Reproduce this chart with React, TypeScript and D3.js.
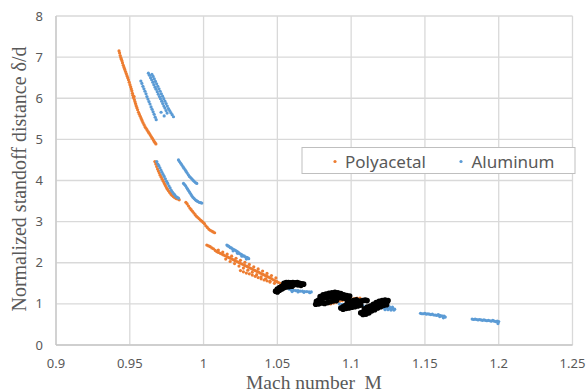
import React from "react";
import * as d3 from "d3";

const xTicks = [0.9, 0.95, 1, 1.05, 1.1, 1.15, 1.2, 1.25];
const xTickLabels = ["0.9", "0.95", "1", "1.05", "1.1", "1.15", "1.2", "1.25"];
const yTicks = [0, 1, 2, 3, 4, 5, 6, 7, 8];
const seriesNames = ["Polyacetal", "Aluminum"];

// Polyacetal: [Mach number, normalized standoff distance]
const polyacetal: [number, number][] = [
  [0.9427,7.15],[0.9431,7.10],[0.9435,7.04],[0.9439,6.99],[0.9443,6.95],[0.9447,6.91],[0.9451,6.86],[0.9456,6.80],
  [0.9461,6.75],[0.9466,6.70],[0.9471,6.65],[0.9476,6.60],[0.9481,6.55],[0.9486,6.50],[0.9491,6.45],[0.9496,6.39],
  [0.9501,6.33],[0.9506,6.28],[0.9510,6.23],[0.9514,6.18],[0.9518,6.12],[0.9521,6.07],[0.9525,6.02],[0.9529,6.04],
  [0.9531,5.97],[0.9535,5.92],[0.9539,5.87],[0.9543,5.82],[0.9548,5.77],[0.9553,5.72],[0.9559,5.66],[0.9565,5.61],
  [0.9571,5.56],[0.9577,5.51],[0.9583,5.46],[0.9589,5.41],[0.9596,5.36],[0.9603,5.31],[0.9610,5.27],[0.9617,5.23],
  [0.9624,5.19],[0.9631,5.15],[0.9638,5.11],[0.9645,5.07],[0.9652,5.03],[0.9659,4.99],[0.9665,4.95],[0.9671,4.92],
  [0.9677,4.89],
  [0.9670,4.46],[0.9676,4.40],[0.9682,4.34],[0.9688,4.28],[0.9694,4.23],[0.9700,4.18],[0.9706,4.13],[0.9713,4.08],
  [0.9720,4.03],[0.9727,3.98],[0.9734,3.93],[0.9741,3.88],[0.9748,3.83],[0.9755,3.79],[0.9762,3.75],[0.9770,3.71],
  [0.9778,3.67],[0.9786,3.64],[0.9795,3.61],[0.9805,3.58],[0.9815,3.56],[0.9825,3.55],[0.9835,3.53],
  [0.9880,3.47],[0.9889,3.43],[0.9898,3.38],[0.9907,3.33],[0.9916,3.29],[0.9925,3.25],[0.9934,3.21],[0.9943,3.17],
  [0.9952,3.13],[0.9961,3.10],[0.9970,3.07],[0.9979,3.04],[0.9988,3.01],[0.9997,2.98],[1.0006,2.95],[1.0015,2.90],
  [1.0025,2.86],[1.0035,2.82],[1.0045,2.79],[1.0055,2.77],[1.0065,2.75],[1.0075,2.73],
  [1.0022,2.43],[1.0034,2.41],[1.0045,2.39],[1.0056,2.36],[1.0067,2.34],[1.0079,2.30],[1.0090,2.27],[1.0101,2.25],
  [1.0113,2.23],[1.0124,2.21],[1.0135,2.19],[1.0146,2.17],[1.0158,2.15],[1.0169,2.13],[1.0180,2.11],[1.0192,2.09],
  [1.0203,2.07],[1.0214,2.05],[1.0226,2.03],[1.0237,2.01],[1.0248,1.99],[1.0260,1.97],[1.0271,1.95],[1.0282,1.93],
  [1.0294,1.91],[1.0305,1.89],[1.0316,1.87],[1.0327,1.85],[1.0339,1.83],[1.0350,1.81],[1.0362,1.79],[1.0373,1.77],
  [1.0384,1.75],[1.0395,1.73],[1.0406,1.71],[1.0418,1.69],[1.0429,1.67],[1.0440,1.65],[1.0452,1.63],[1.0463,1.61],
  [1.0474,1.58],[1.0486,1.56],[1.0497,1.54],[1.0508,1.52],[1.0520,1.50],[1.0531,1.48],[1.0542,1.46],
  [1.0100,2.31],[1.0130,2.26],[1.0160,2.21],[1.0190,2.16],[1.0220,2.11],[1.0250,2.06],[1.0280,2.01],[1.0310,1.96],
  [1.0340,1.90],[1.0370,1.85],[1.0400,1.80],[1.0430,1.74],[1.0460,1.69],[1.0490,1.63],
  [1.0150,2.09],[1.0180,2.03],[1.0210,1.98],[1.0240,1.92],[1.0270,1.87],[1.0300,1.82],[1.0330,1.77],[1.0360,1.71],
  [1.0390,1.66],[1.0420,1.61],[1.0450,1.55],[1.0480,1.50],
  [1.0250,1.81],[1.0270,1.78],[1.0290,1.75],[1.0310,1.73],[1.0330,1.70],[1.0350,1.67],[1.0370,1.64],[1.0390,1.61],
  [1.0410,1.58],[1.0430,1.56],[1.0450,1.53],
  [1.0860,1.00],[1.0880,1.02],[1.0900,1.04],[1.0920,1.06],[1.0940,1.08],[1.0960,1.10],[1.0980,1.11],[1.1000,1.12],
  [1.1020,1.13],[1.1040,1.14],[1.1060,1.14],
];

// Aluminum: [Mach number, normalized standoff distance]
const aluminum: [number, number][] = [
  [0.9575,6.42],[0.9582,6.36],[0.9589,6.29],[0.9596,6.23],[0.9603,6.17],[0.9610,6.11],[0.9616,6.04],[0.9623,5.98],
  [0.9630,5.92],[0.9637,5.86],[0.9644,5.79],[0.9651,5.73],[0.9658,5.67],[0.9665,5.61],[0.9672,5.54],[0.9679,5.48],
  [0.9626,6.61],[0.9633,6.56],[0.9641,6.50],[0.9648,6.45],[0.9656,6.39],[0.9663,6.33],[0.9671,6.27],[0.9678,6.22],
  [0.9686,6.16],[0.9693,6.10],[0.9701,6.04],[0.9708,5.99],[0.9716,5.93],[0.9723,5.87],[0.9731,5.81],[0.9738,5.76],
  [0.9746,5.70],[0.9753,5.64],
  [0.9650,6.58],[0.9658,6.53],[0.9666,6.47],[0.9674,6.41],[0.9682,6.35],[0.9690,6.29],[0.9698,6.23],[0.9706,6.17],
  [0.9714,6.11],[0.9722,6.05],[0.9730,5.99],[0.9738,5.93],[0.9746,5.87],[0.9754,5.81],[0.9762,5.75],[0.9770,5.70],
  [0.9778,5.65],[0.9787,5.60],[0.9796,5.55],[0.9733,5.57],[0.9712,5.66],
  [0.9683,4.46],[0.9690,4.40],[0.9697,4.36],[0.9704,4.31],[0.9711,4.25],[0.9718,4.20],[0.9725,4.15],[0.9733,4.10],
  [0.9741,4.04],[0.9749,3.98],[0.9757,3.93],[0.9765,3.87],[0.9773,3.82],[0.9781,3.76],[0.9789,3.72],[0.9797,3.68],
  [0.9805,3.65],[0.9813,3.61],[0.9821,3.59],[0.9830,3.57],
  [0.9830,4.50],[0.9837,4.46],[0.9845,4.42],[0.9852,4.38],[0.9860,4.34],[0.9867,4.30],[0.9875,4.26],[0.9882,4.22],
  [0.9889,4.18],[0.9897,4.14],[0.9904,4.10],[0.9912,4.07],[0.9920,4.04],[0.9928,4.01],[0.9936,3.98],[0.9945,3.95],
  [0.9954,3.93],
  [0.9864,3.93],[0.9871,3.90],[0.9878,3.87],[0.9885,3.83],[0.9892,3.79],[0.9899,3.75],[0.9906,3.71],[0.9913,3.67],
  [0.9920,3.63],[0.9928,3.59],[0.9936,3.56],[0.9944,3.53],[0.9952,3.51],[0.9960,3.49],[0.9970,3.47],[0.9980,3.46],
  [0.9988,3.45],
  [1.0158,2.43],[1.0165,2.41],[1.0172,2.40],[1.0180,2.37],[1.0188,2.36],[1.0196,2.34],[1.0204,2.32],[1.0212,2.31],
  [1.0220,2.29],[1.0228,2.27],[1.0236,2.25],[1.0244,2.22],[1.0252,2.21],[1.0260,2.19],[1.0268,2.17],[1.0276,2.16],
  [1.0284,2.14],[1.0292,2.13],[1.0300,2.12],[1.0306,2.10],[1.0200,2.29],[1.0230,2.23],[1.0260,2.16],[1.0290,2.09],
  [1.0580,1.36],[1.0595,1.34],[1.0610,1.33],[1.0625,1.32],[1.0640,1.32],[1.0655,1.31],[1.0670,1.31],[1.0685,1.30],
  [1.0700,1.30],[1.0715,1.29],[1.0730,1.29],[1.0600,1.30],[1.0640,1.29],[1.0680,1.28],[1.0720,1.27],
  [1.0920,1.00],[1.0940,0.99],[1.0960,0.99],[1.0980,0.98],[1.1000,0.97],[1.1020,0.97],[1.1040,0.96],[1.1060,0.95],
  [1.1080,0.95],[1.1100,0.94],[1.1120,0.93],[1.1140,0.93],[1.1160,0.92],[1.1180,0.91],[1.1200,0.91],[1.1220,0.90],
  [1.1240,0.90],[1.1260,0.89],[1.1280,0.88],[1.1295,0.87],[1.1230,0.86],[1.1250,0.86],[1.1270,0.85],[1.1290,0.85],
  [1.1210,0.95],[1.1260,0.93],[1.1280,0.92],
  [1.1470,0.77],[1.1480,0.76],[1.1490,0.76],[1.1500,0.77],[1.1510,0.75],[1.1520,0.76],[1.1530,0.75],[1.1540,0.74],
  [1.1550,0.75],[1.1560,0.73],[1.1570,0.73],[1.1580,0.72],[1.1590,0.74],[1.1600,0.72],[1.1610,0.71],[1.1620,0.70],
  [1.1630,0.70],[1.1638,0.68],[1.1625,0.66],[1.1600,0.69],
  [1.1820,0.63],[1.1830,0.62],[1.1840,0.63],[1.1850,0.62],[1.1860,0.61],[1.1870,0.62],[1.1880,0.61],[1.1890,0.60],
  [1.1900,0.61],[1.1910,0.60],[1.1920,0.59],[1.1930,0.60],[1.1940,0.59],[1.1950,0.58],[1.1960,0.60],[1.1970,0.58],
  [1.1980,0.57],[1.1990,0.58],[1.2000,0.57],[1.1995,0.52],
];

// Highlighted (black) measurements: [Mach number, normalized standoff distance]
const marked: [number, number][] = [
  [1.0545,1.50],[1.0560,1.52],[1.0575,1.52],[1.0590,1.51],[1.0605,1.52],[1.0620,1.51],[1.0635,1.52],[1.0650,1.50],
  [1.0665,1.49],[1.0678,1.48],
  [1.0500,1.36],[1.0515,1.40],[1.0530,1.43],[1.0545,1.45],[1.0560,1.47],[1.0575,1.46],[1.0590,1.47],[1.0605,1.46],
  [1.0620,1.47],[1.0640,1.46],[1.0660,1.45],
  [1.0488,1.31],[1.0500,1.29],[1.0515,1.33],[1.0530,1.36],[1.0545,1.39],[1.0560,1.41],[1.0580,1.42],[1.0600,1.43],
  [1.0790,1.18],[1.0810,1.22],[1.0830,1.24],[1.0850,1.26],[1.0870,1.27],[1.0890,1.28],[1.0910,1.27],[1.0930,1.25],
  [1.0950,1.22],[1.0970,1.20],[1.0990,1.19],
  [1.0765,1.06],[1.0780,1.09],[1.0800,1.12],[1.0820,1.14],[1.0840,1.16],[1.0860,1.17],[1.0880,1.18],[1.0900,1.17],
  [1.0920,1.15],[1.0940,1.14],[1.0960,1.13],[1.0980,1.13],
  [1.0760,0.99],[1.0780,1.00],[1.0800,1.02],[1.0820,1.01],[1.0840,1.03],[1.0860,1.05],[1.0880,1.07],[1.0900,1.08],
  [1.0930,0.90],[1.0945,0.93],[1.0960,0.96],[1.0975,0.99],[1.0990,1.00],[1.1005,1.01],[1.1020,1.02],[1.1035,1.04],
  [1.1050,1.06],[1.1065,1.07],[1.1080,1.08],[1.1095,1.09],[1.1108,1.08],
  [1.0945,0.87],[1.0965,0.89],[1.0985,0.90],[1.1005,0.92],[1.1025,0.93],[1.1045,0.95],[1.1065,0.97],
  [1.0975,1.04],[1.0995,1.06],[1.1015,1.08],[1.1035,1.10],
  [1.1065,0.78],[1.1080,0.80],[1.1095,0.82],[1.1110,0.85],[1.1125,0.88],[1.1140,0.90],[1.1155,0.93],[1.1170,0.96],
  [1.1185,0.98],[1.1200,1.00],[1.1215,1.02],[1.1230,1.04],[1.1245,1.06],
  [1.1090,0.88],[1.1110,0.92],[1.1130,0.95],[1.1150,0.99],[1.1170,1.03],[1.1190,1.06],[1.1210,1.08],[1.1230,1.09],
  [1.1250,1.08],
  [1.1080,0.74],[1.1100,0.75],[1.1120,0.78],[1.1140,0.83],[1.1160,0.86],[1.1180,0.90],[1.1200,0.93],[1.1220,0.96],
  [1.1240,0.98],
];

const W = 588;
const H = 391;
const M = { left: 56, right: 572.5, top: 16, bottom: 345 };
const ORANGE = "#ED7D31";
const BLUE = "#5B9BD5";
const GRID = "#d9d9d9";
const TEXT = "#595959";

export default function App() {
  const x = d3.scaleLinear().domain([0.9, 1.25]).range([M.left, M.right]);
  const y = d3.scaleLinear().domain([0, 8]).range([M.bottom, M.top]);
  const sans = "'Noto Sans', sans-serif";
  const serif = "'Liberation Serif', 'Times New Roman', serif";

  return (
    <svg
      width={W}
      height={H}
      style={{ position: "absolute", left: 0, top: 0, background: "#fff" }}
    >
      <rect x={0} y={0} width={W} height={H} fill="#fff" />
      {yTicks.map((t) => (
        <line key={"gy" + t} x1={M.left} x2={M.right} y1={y(t)} y2={y(t)} stroke={GRID} strokeWidth={1.3} />
      ))}
      {xTicks.map((t) => (
        <line key={"gx" + t} x1={x(t)} x2={x(t)} y1={M.top} y2={M.bottom} stroke={GRID} strokeWidth={1.3} />
      ))}
      <line x1={M.left} x2={M.right} y1={M.bottom} y2={M.bottom} stroke="#c8c8c8" strokeWidth={1.3} />
      <line x1={M.left} x2={M.left} y1={M.top} y2={M.bottom} stroke="#c8c8c8" strokeWidth={1.3} />

      {yTicks.map((t) => (
        <text key={"ly" + t} x={M.left - 13} y={y(t)} dy="0.35em" textAnchor="end" fontFamily={sans} fontSize={13} fill={TEXT}>
          {t}
        </text>
      ))}
      {xTicks.map((t, i) => (
        <text key={"lx" + t} x={x(t)} y={368} textAnchor="middle" fontFamily={sans} fontSize={13} fill={TEXT}>
          {xTickLabels[i]}
        </text>
      ))}

      <g>
        {polyacetal.map((p, i) => (
          <circle key={"o" + i} cx={x(p[0])} cy={y(p[1])} r={1.6} fill={ORANGE} />
        ))}
      </g>
      <g>
        {aluminum.map((p, i) => (
          <circle key={"b" + i} cx={x(p[0])} cy={y(p[1])} r={1.6} fill={BLUE} />
        ))}
      </g>
      <g>
        {marked.map((p, i) => (
          <circle key={"k" + i} cx={x(p[0])} cy={y(p[1])} r={2.8} fill="#000" />
        ))}
      </g>

      <g>
        <rect x={302} y={147.5} width={273} height={26} fill="#fff" stroke="#bfbfbf" strokeWidth={1} />
        <circle cx={335} cy={161.5} r={1.6} fill={ORANGE} />
        <text x={345} y={167.5} fontFamily={sans} fontSize={17} fill={TEXT}>{seriesNames[0]}</text>
        <circle cx={461} cy={161.5} r={1.6} fill={BLUE} />
        <text x={471.5} y={167.5} fontFamily={sans} fontSize={17} fill={TEXT}>{seriesNames[1]}</text>
      </g>

      <text
        transform={`translate(25.5, 179) rotate(-90)`}
        textAnchor="middle"
        fontFamily={serif}
        fontSize={20}
        fill={TEXT}
      >
        Normalized standoff distance δ/d
      </text>
      <text
        x={314}
        y={388.5}
        textAnchor="middle"
        fontFamily={serif}
        fontSize={19.5}
        fill={TEXT}
        style={{ whiteSpace: "pre" }}
      >
        {"Mach number  M"}
      </text>
    </svg>
  );
}
